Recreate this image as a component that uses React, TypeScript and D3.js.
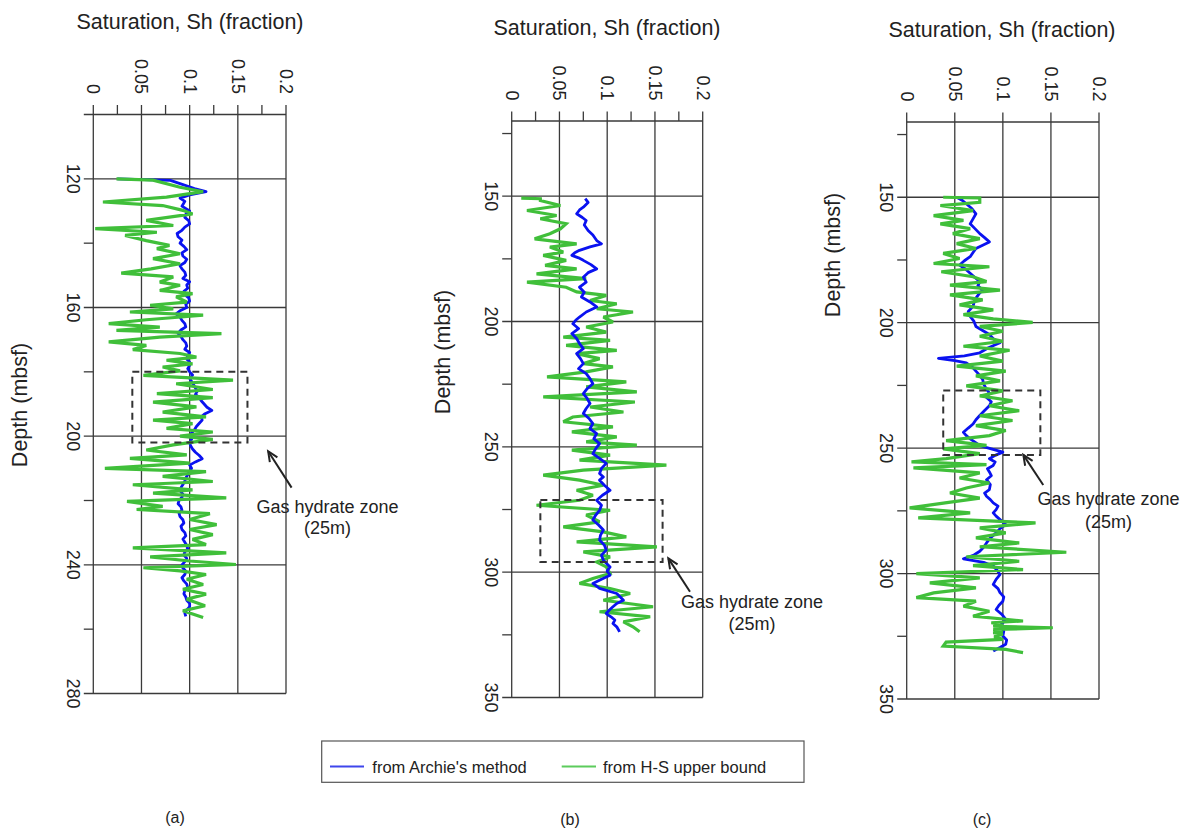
import React from "react";
import * as d3 from "d3";

// ---------- DATA ----------
// [depth (mbsf), Sh (fraction)]
const archieA: [number, number][] = [[120,0.025],[120.5,0.08],[121.5,0.09],[123,0.105],[124,0.117],[125,0.1],[126,0.09],[127,0.095],[128.5,0.092],[130,0.1],[131,0.096],[132,0.095],[133,0.099],[134,0.1],[135,0.095],[136,0.092],[137,0.087],[138,0.088],[139,0.092],[140,0.09],[141,0.094],[142,0.097],[143,0.092],[144,0.093],[145,0.097],[146,0.095],[147,0.09],[148,0.092],[149,0.095],[150,0.096],[151,0.093],[152,0.1],[153,0.097],[154,0.098],[155,0.094],[156,0.095],[157,0.099],[158,0.1],[159,0.096],[160,0.097],[161,0.09],[162,0.086],[163,0.09],[164,0.092],[165,0.095],[166,0.096],[167,0.091],[168,0.088],[169,0.091],[170,0.093],[171,0.096],[172,0.097],[173,0.095],[174,0.1],[175,0.098],[176,0.097],[177,0.1],[178,0.1],[179,0.098],[180,0.1],[181,0.103],[182,0.1],[183,0.102],[184,0.104],[185,0.106],[186,0.108],[187,0.106],[188,0.11],[189,0.112],[190,0.115],[191,0.118],[192,0.123],[193,0.116],[194,0.112],[195,0.113],[196,0.11],[197,0.107],[198,0.105],[199,0.102],[200,0.1],[201,0.102],[202,0.1],[203,0.101],[204,0.103],[205,0.106],[206,0.11],[207,0.113],[208,0.106],[209,0.1],[210,0.102],[211,0.1],[212,0.098],[213,0.096],[214,0.095],[215,0.093],[216,0.091],[217,0.09],[218,0.093],[219,0.092],[220,0.089],[221,0.088],[222,0.091],[223,0.092],[224,0.089],[225,0.09],[226,0.093],[227,0.094],[228,0.091],[229,0.092],[230,0.095],[231,0.096],[232,0.093],[233,0.095],[234,0.097],[235,0.098],[236,0.095],[237,0.094],[238,0.097],[239,0.095],[240,0.092],[241,0.093],[242,0.096],[243,0.095],[244,0.092],[245,0.094],[246,0.097],[247,0.098],[248,0.095],[249,0.094],[250,0.096],[251,0.097],[252,0.1],[253,0.1],[254,0.097],[255,0.095],[256,0.096]];
const hsA: [number, number][] = [[120,0.024],[120.4,0.062],[122.6,0.09],[124,0.114],[125.7,0.076],[127.2,0.01],[128.3,0.072],[129.8,0.093],[130.9,0.103],[132.9,0.055],[134.5,0.083],[135.5,0.002],[136.6,0.066],[137.6,0.033],[139.2,0.055],[140.7,0.079],[141.7,0.066],[143.3,0.09],[144.8,0.062],[146.4,0.09],[148,0.06],[149.3,0.029],[150.5,0.083],[152.1,0.069],[153.1,0.09],[154.7,0.069],[155.7,0.103],[156.7,0.086],[158.3,0.097],[159.3,0.059],[160.4,0.083],[161.4,0.038],[162.4,0.114],[163.8,0.055],[165,0.016],[166.1,0.069],[167.1,0.024],[168.1,0.133],[169.2,0.069],[170.7,0.016],[171.8,0.055],[173.1,0.041],[174.3,0.09],[175.4,0.107],[176.4,0.076],[177.5,0.103],[178.5,0.072],[179.7,0.09],[181.1,0.052],[182.6,0.145],[183.7,0.086],[185.5,0.124],[186.8,0.066],[188,0.124],[189.4,0.062],[190.9,0.107],[192.5,0.072],[194,0.117],[195,0.062],[196.1,0.103],[197.6,0.076],[198.7,0.124],[200,0.09],[201,0.124],[202.7,0.083],[204.3,0.055],[205.8,0.097],[206.9,0.038],[208.4,0.1],[210,0.012],[211,0.117],[212.5,0.072],[214.1,0.124],[215.1,0.041],[216.7,0.103],[217.7,0.062],[219.2,0.138],[220.3,0.035],[221.8,0.072],[222.8,0.045],[224.1,0.121],[225.9,0.1],[227.5,0.128],[229,0.1],[230.6,0.124],[232.1,0.103],[233.7,0.117],[234.7,0.041],[236.3,0.138],[237.5,0.059],[238.8,0.1],[239.9,0.148],[240.9,0.052],[241.9,0.09],[243,0.117],[244.5,0.097],[246.1,0.114],[247.6,0.093],[249.1,0.117],[250.7,0.097],[252.7,0.116],[254.3,0.093],[256.4,0.114]];

const archieB: [number, number][] = [[151,0.077],[152.5,0.08],[154.4,0.075],[155.5,0.071],[157,0.068],[158.5,0.074],[159.7,0.078],[161.5,0.076],[163.7,0.08],[165.5,0.085],[167.7,0.089],[169,0.094],[170.2,0.082],[171.6,0.071],[172.6,0.066],[173.6,0.063],[174.6,0.07],[175.6,0.075],[177.3,0.083],[179,0.089],[180.5,0.08],[182.3,0.075],[184.3,0.078],[186.3,0.071],[188.3,0.076],[190.2,0.073],[192.2,0.082],[194.2,0.089],[196.2,0.078],[198.2,0.071],[199.5,0.067],[200.9,0.064],[202.8,0.07],[204.8,0.063],[206.8,0.068],[208.8,0.071],[210.8,0.075],[212.8,0.068],[214.8,0.072],[216.8,0.075],[218.8,0.07],[220.8,0.078],[222.8,0.082],[224.8,0.085],[226.8,0.079],[228.8,0.075],[230.7,0.079],[232.7,0.082],[234.7,0.078],[236.7,0.075],[238.7,0.081],[240.7,0.085],[242.7,0.082],[244.7,0.089],[246.7,0.086],[248.7,0.092],[250.7,0.088],[252.7,0.085],[254.6,0.092],[256.6,0.099],[258.6,0.094],[260.6,0.092],[262,0.096],[263.3,0.092],[265.3,0.097],[267.3,0.103],[269.3,0.095],[271.3,0.089],[273.3,0.094],[275.3,0.092],[277.2,0.088],[279.2,0.085],[281.2,0.091],[283.2,0.096],[285.2,0.093],[287.2,0.092],[289.2,0.097],[291.2,0.099],[293.2,0.094],[295.2,0.096],[297.9,0.103],[299.5,0.1],[301.2,0.103],[302.8,0.094],[304.5,0.085],[306.5,0.092],[308.5,0.11],[310,0.114],[311.2,0.117],[312.5,0.11],[313.8,0.106],[315.2,0.102],[316.5,0.099],[317.8,0.104],[319.1,0.108],[320.5,0.106],[321.8,0.11],[323.8,0.113]];
const hsB: [number, number][] = [[150.8,0.01],[151,0.03],[151.7,0.03],[153.7,0.051],[155.7,0.016],[157.7,0.047],[159,0.03],[161,0.057],[163,0.051],[165,0.04],[167,0.024],[169,0.068],[170.3,0.04],[172.3,0.054],[173.6,0.033],[175.6,0.057],[177.6,0.035],[179,0.068],[181,0.026],[182.9,0.078],[184.3,0.016],[186.3,0.057],[188.2,0.068],[189.6,0.099],[191.6,0.082],[192.9,0.11],[194.9,0.089],[196.2,0.127],[198.2,0.096],[200.2,0.106],[202.2,0.078],[204.2,0.099],[206.2,0.054],[207.5,0.103],[209.5,0.057],[211.5,0.11],[212.8,0.068],[214.8,0.092],[216.8,0.075],[218.1,0.106],[220.1,0.078],[222.1,0.037],[224.1,0.12],[226.1,0.078],[228.1,0.131],[230.1,0.033],[232.1,0.129],[234.1,0.082],[236.1,0.117],[238.1,0.064],[240,0.054],[242,0.106],[244,0.063],[246,0.11],[248,0.078],[249.3,0.131],[251.3,0.063],[253.3,0.103],[255.3,0.071],[257.3,0.162],[259.3,0.075],[261.3,0.033],[263.3,0.071],[265.3,0.096],[267.3,0.068],[269.3,0.085],[271.3,0.071],[273.3,0.026],[275.3,0.103],[277.2,0.078],[279.9,0.092],[281.9,0.054],[283.9,0.096],[285.9,0.12],[287.9,0.068],[289.9,0.152],[291.9,0.075],[293.9,0.103],[295.9,0.089],[297.9,0.099],[300.5,0.103],[302.5,0.085],[304.5,0.071],[306.5,0.103],[308.5,0.124],[311.2,0.096],[313.8,0.148],[315.8,0.092],[317.8,0.145],[319.8,0.117],[321.8,0.127],[323.8,0.134]];

const archieC: [number, number][] = [[150,0.052],[151.3,0.058],[152.6,0.062],[154.6,0.068],[156.6,0.072],[158.6,0.069],[160.6,0.066],[162.5,0.071],[164.5,0.076],[166.1,0.081],[167.8,0.086],[169.1,0.079],[170.4,0.072],[172,0.069],[173.7,0.066],[175.3,0.06],[177,0.055],[178.6,0.061],[180.3,0.066],[182,0.071],[183.6,0.076],[185.3,0.074],[187,0.079],[188.6,0.075],[190.2,0.072],[191.9,0.07],[193.5,0.069],[195.5,0.064],[197.5,0.066],[199.5,0.07],[201.5,0.072],[203.1,0.079],[204.7,0.086],[206.4,0.09],[208,0.097],[210,0.085],[212,0.076],[213.2,0.06],[214.2,0.033],[215.1,0.05],[216,0.062],[217.6,0.068],[219.3,0.072],[221,0.076],[222.6,0.079],[224.5,0.08],[226.5,0.083],[228.1,0.086],[229.8,0.083],[231.5,0.088],[233.1,0.086],[235,0.081],[237,0.076],[238.7,0.072],[240.4,0.069],[242,0.064],[243.7,0.059],[245,0.062],[246.3,0.066],[247.6,0.071],[249,0.076],[250.3,0.088],[251.6,0.1],[252.9,0.092],[254.2,0.086],[255.5,0.092],[256.9,0.09],[258.2,0.084],[259.5,0.086],[261,0.088],[262.6,0.083],[264.5,0.087],[266.5,0.086],[267.9,0.081],[269.2,0.083],[270.5,0.087],[271.8,0.09],[273.1,0.095],[274.5,0.093],[275.8,0.09],[277.1,0.093],[278.8,0.098],[280.5,0.103],[282.1,0.097],[283.8,0.093],[285.8,0.087],[287.8,0.083],[289.5,0.08],[291.1,0.076],[292.6,0.07],[294.1,0.059],[295.5,0.08],[297,0.09],[298.7,0.094],[300.4,0.097],[302.3,0.093],[304.3,0.09],[306,0.095],[307.6,0.097],[309.3,0.101],[311,0.1],[312.6,0.096],[314.3,0.093],[316.3,0.099],[318.3,0.103],[319.6,0.1],[320.9,0.097],[322.9,0.101],[324.9,0.1],[326.5,0.104],[328.2,0.103],[329.5,0.097],[330.9,0.09]];
const hsC: [number, number][] = [[150,0.038],[150.3,0.076],[152,0.076],[153.3,0.035],[155.3,0.069],[157.3,0.028],[159.2,0.059],[160.6,0.035],[162.5,0.066],[164.5,0.048],[166.5,0.076],[168.5,0.052],[170.4,0.072],[172.4,0.038],[174.4,0.055],[176.4,0.028],[177.7,0.086],[179.7,0.036],[181.7,0.069],[183.6,0.083],[185,0.045],[187,0.097],[188.9,0.045],[190.9,0.079],[192.9,0.055],[194.9,0.09],[196.8,0.059],[198.5,0.09],[199.9,0.131],[201.5,0.076],[203.4,0.1],[205.4,0.076],[207.4,0.1],[209.4,0.059],[211,0.107],[213.3,0.076],[215.3,0.1],[217.3,0.052],[219.3,0.103],[221.2,0.072],[223.2,0.097],[225.2,0.062],[227.2,0.1],[229.2,0.076],[231.1,0.11],[233.1,0.086],[235.1,0.117],[237.1,0.076],[239,0.11],[241,0.072],[243,0.103],[245,0.086],[247,0.041],[248.9,0.083],[250.3,0.038],[252.2,0.076],[254.2,0.041],[255.5,0.005],[256.6,0.083],[257.9,0.007],[259.9,0.076],[261.9,0.055],[263.9,0.086],[265.9,0.062],[267.9,0.045],[269.9,0.076],[271.8,0.04],[273.8,0.003],[275.8,0.066],[277.8,0.012],[279.8,0.134],[281.8,0.076],[283.8,0.103],[285.8,0.072],[287.8,0.117],[289.3,0.076],[291.5,0.166],[293.3,0.062],[295.1,0.117],[296.8,0.069],[298.4,0.121],[300,0.01],[301.7,0.076],[303.7,0.024],[305.7,0.072],[307.7,0.028],[309.6,0.01],[311,0.072],[313,0.059],[315,0.086],[317,0.069],[318.9,0.121],[319.6,0.088],[320.2,0.1],[321,0.09],[321.6,0.152],[322.3,0.09],[322.9,0.1],[323.6,0.09],[324.2,0.1],[325.2,0.091],[326.2,0.1],[327.3,0.041],[328.9,0.038],[330.2,0.103],[331.5,0.121]];

const satTicks = [0, 0.05, 0.1, 0.15, 0.2];
const satTickLabels = ["0", "0.05", "0.1", "0.15", "0.2"];
const satMinorTicks = [0.025, 0.075, 0.125, 0.175];

const depthTicksA = [120, 160, 200, 240, 280];
const depthMinorA = [140, 180, 220, 260];
const depthTicksBC = [150, 200, 250, 300, 350];
const depthMinorBC = [125, 175, 225, 275, 325];

const legendLabels = ["from Archie's method", "from H-S upper bound"];
const panelLetters = ["(a)", "(b)", "(c)"];
const titleText = "Saturation, Sh (fraction)";
const depthTitle = "Depth (mbsf)";
const zoneText = ["Gas hydrate zone", "(25m)"];

// ---------- STYLE / LAYOUT ----------
const BLUE = "#0a12f0";
const GREEN = "#40bf3a";
const GRID = "#3a3a3a";
const FONT = "'Liberation Sans', Arial, Helvetica, sans-serif";
const TXT = "#222";

type PanelCfg = {
  archie: [number, number][];
  hs: [number, number][];
  x0: number; x1: number; y0: number; y1: number;
  dDomain: [number, number];
  majors: number[];
  minors: number[];
  topTick: boolean;
  satMinor: boolean;
  blueOnTop: boolean;
  titleX: number; titleY: number;
  depthTitleX: number; depthTitleY: number;
  zone: { s0: number; s1: number; d0: number; d1: number };
  arrow: { hs: number; hd: number; ts: number; td: number };
  note: { s: number; d1: number; d2: number };
  letter: string; letterX: number; letterY: number;
};

const panels: PanelCfg[] = [
  {
    archie: archieA, hs: hsA,
    x0: 93.3, x1: 286, y0: 114.5, y1: 693.5,
    dDomain: [100, 280], majors: depthTicksA, minors: depthMinorA,
    topTick: true, satMinor: true, blueOnTop: false,
    titleX: 190, titleY: 22, depthTitleX: 20, depthTitleY: 405,
    zone: { s0: 0.0405, s1: 0.16, d0: 180, d1: 202 },
    arrow: { hs: 0.1815, hd: 204.7, ts: 0.2058, td: 216 },
    note: { s: 0.243, d1: 221.9, d2: 228.4 },
    letter: panelLetters[0], letterX: 175, letterY: 817,
  },
  {
    archie: archieB, hs: hsB,
    x0: 511.7, x1: 702.7, y0: 121, y1: 697.5,
    dDomain: [120, 350], majors: depthTicksBC, minors: depthMinorBC,
    topTick: false, satMinor: true, blueOnTop: true,
    titleX: 607, titleY: 28, depthTitleX: 443, depthTitleY: 352,
    zone: { s0: 0.03, s1: 0.158, d0: 271.2, d1: 295.9 },
    arrow: { hs: 0.164, hd: 294.5, ts: 0.1867, td: 307.8 },
    note: { s: 0.2516, d1: 311.8, d2: 320.7 },
    letter: panelLetters[1], letterX: 570, letterY: 819,
  },
  {
    archie: archieC, hs: hsC,
    x0: 906.7, x1: 1099, y0: 122, y1: 699,
    dDomain: [120, 350], majors: depthTicksBC, minors: depthMinorBC,
    topTick: false, satMinor: false, blueOnTop: false,
    titleX: 1002, titleY: 30, depthTitleX: 833, depthTitleY: 255,
    zone: { s0: 0.038, s1: 0.139, d0: 227, d1: 252.7 },
    arrow: { hs: 0.1213, hd: 252.7, ts: 0.142, td: 264.7 },
    note: { s: 0.2099, d1: 270.3, d2: 279.4 },
    letter: panelLetters[2], letterX: 982, letterY: 819,
  },
];

function Panel({ p }: { p: PanelCfg }) {
  const x = d3.scaleLinear().domain([0, 0.2]).range([p.x0, p.x1]);
  const y = d3.scaleLinear().domain(p.dDomain).range([p.y0, p.y1]);
  const line = d3
    .line<[number, number]>()
    .x((d) => x(d[1]))
    .y((d) => y(d[0]));
  const tickLen = 9.5;
  const top = y(p.dDomain[0]);
  const bottom = y(p.dDomain[1]);
  const left = x(0);
  const right = x(0.2);

  const blue = <path d={line(p.archie) || ""} fill="none" stroke={BLUE} strokeWidth={2.8} strokeLinejoin="round" />;
  const green = <path d={line(p.hs) || ""} fill="none" stroke={GREEN} strokeWidth={3.2} strokeLinejoin="miter" strokeMiterlimit={3} />;

  // arrow
  const hx = x(p.arrow.hs), hy = y(p.arrow.hd), tx = x(p.arrow.ts), ty = y(p.arrow.td);
  const ang = Math.atan2(ty - hy, tx - hx);
  const ah = 11, spread = 0.42;
  const a1 = [hx + ah * Math.cos(ang + spread), hy + ah * Math.sin(ang + spread)];
  const a2 = [hx + ah * Math.cos(ang - spread), hy + ah * Math.sin(ang - spread)];

  return (
    <g>
      {/* title */}
      <text x={p.titleX} y={p.titleY} textAnchor="middle" dominantBaseline="central" fontSize={21.5} fill={TXT}>{titleText}</text>
      {/* depth title */}
      <text transform={`translate(${p.depthTitleX},${p.depthTitleY}) rotate(-90)`} textAnchor="middle" dominantBaseline="central" fontSize={21.5} fill={TXT}>{depthTitle}</text>

      {/* top axis line */}
      <line x1={p.topTick ? left - tickLen : left} x2={right} y1={top} y2={top} stroke={GRID} strokeWidth={1.3} />
      {/* vertical grid lines + top ticks */}
      {satTicks.map((s, i) => (
        <g key={"s" + i}>
          <line x1={x(s)} x2={x(s)} y1={top - tickLen} y2={bottom} stroke={GRID} strokeWidth={1.3} />
          <text transform={`translate(${x(s)},${top - 20.5}) rotate(90)`} textAnchor="end" dominantBaseline="central" fontSize={18} fill={TXT}>{satTickLabels[i]}</text>
        </g>
      ))}
      {p.satMinor && satMinorTicks.map((s, i) => (
        <line key={"sm" + i} x1={x(s)} x2={x(s)} y1={top - tickLen} y2={top} stroke={GRID} strokeWidth={1.3} />
      ))}
      {/* depth majors: gridlines */}
      {p.majors.map((d, i) => (
        <g key={"d" + i}>
          <line x1={left - tickLen} x2={right} y1={y(d)} y2={y(d)} stroke={GRID} strokeWidth={1.3} />
          <text transform={`translate(${left - tickLen - 11},${y(d)}) rotate(90)`} textAnchor="middle" dominantBaseline="central" fontSize={18} fill={TXT}>{String(d)}</text>
        </g>
      ))}
      {p.minors.map((d, i) => (
        <line key={"dm" + i} x1={left - tickLen} x2={left} y1={y(d)} y2={y(d)} stroke={GRID} strokeWidth={1.3} />
      ))}

      {/* data */}
      {p.blueOnTop ? <>{green}{blue}</> : <>{blue}{green}</>}

      {/* gas hydrate zone box */}
      <rect x={x(p.zone.s0)} y={y(p.zone.d0)} width={x(p.zone.s1) - x(p.zone.s0)} height={y(p.zone.d1) - y(p.zone.d0)} fill="none" stroke="#333" strokeWidth={2} strokeDasharray="7,5" />
      {/* arrow */}
      <line x1={tx} y1={ty} x2={hx} y2={hy} stroke="#222" strokeWidth={2} />
      <path d={`M${a1[0]},${a1[1]} L${hx},${hy} L${a2[0]},${a2[1]}`} fill="none" stroke="#222" strokeWidth={2} />
      <text x={x(p.note.s)} y={y(p.note.d1)} textAnchor="middle" dominantBaseline="central" fontSize={18} fill={TXT}>{zoneText[0]}</text>
      <text x={x(p.note.s)} y={y(p.note.d2)} textAnchor="middle" dominantBaseline="central" fontSize={18} fill={TXT}>{zoneText[1]}</text>

      {/* panel letter */}
      <text x={p.letterX} y={p.letterY} textAnchor="middle" dominantBaseline="central" fontSize={16} fill={TXT}>{p.letter}</text>
    </g>
  );
}

export default function App() {
  return (
    <svg width={1184} height={830} style={{ display: "block", position: "absolute", left: 0, top: 0, background: "#fff" }} fontFamily={FONT}>
      <rect x={0} y={0} width={1184} height={830} fill="#fff" />
      {panels.map((p, i) => (
        <Panel key={i} p={p} />
      ))}
      {/* legend */}
      <rect x={321.7} y={741} width={482.3} height={41.3} fill="#fff" stroke="#555" strokeWidth={1.2} />
      <line x1={330} x2={364} y1={766.5} y2={766.5} stroke="#3f46ec" strokeWidth={2.2} />
      <text x={372.3} y={766.5} dominantBaseline="central" fontSize={16.5} fill={TXT}>{legendLabels[0]}</text>
      <line x1={561.7} x2={596} y1={766.5} y2={766.5} stroke="#5ccc5c" strokeWidth={2.2} />
      <text x={603} y={766.5} dominantBaseline="central" fontSize={16.5} fill={TXT}>{legendLabels[1]}</text>
    </svg>
  );
}
